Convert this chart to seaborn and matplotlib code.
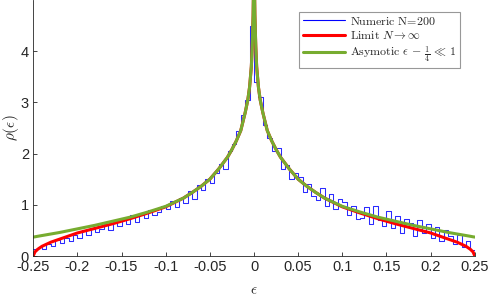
import numpy as np
import pandas as pd
import matplotlib
matplotlib.use("Agg")
import matplotlib.pyplot as plt
from matplotlib.lines import Line2D
import seaborn as sns

# histogram of numeric eigenvalues (bin width 0.005, from -0.25 to 0.25)
bin_edges = np.linspace(-0.25, 0.25, 101)
hist_left = [0.14, 0.18, 0.13, 0.24, 0.20, 0.31, 0.25, 0.35, 0.30, 0.42,
             0.36, 0.50, 0.41, 0.55, 0.46, 0.52, 0.62, 0.50, 0.66, 0.58,
             0.72, 0.62, 0.80, 0.66, 0.84, 0.74, 0.90, 0.80, 0.86, 0.98,
             0.92, 1.08, 0.96, 1.14, 1.04, 1.26, 1.12, 1.38, 1.28, 1.50,
             1.42, 1.62, 1.80, 1.70, 2.05, 2.18, 2.45, 2.75, 3.05, 4.50]
hist_right = [3.40, 3.10, 2.55, 2.30, 2.05, 2.10, 1.70, 1.78, 1.50, 1.62,
              1.55, 1.25, 1.40, 1.18, 1.10, 1.32, 0.98, 1.22, 0.92, 1.12,
              1.05, 0.80, 0.98, 0.72, 0.74, 0.95, 0.62, 0.98, 0.70, 0.58,
              0.88, 0.55, 0.78, 0.45, 0.72, 0.64, 0.40, 0.70, 0.44, 0.62,
              0.36, 0.56, 0.30, 0.50, 0.40, 0.24, 0.42, 0.18, 0.30, 0.12]

# limit and asymptotic curves, read at |eps| points (symmetric)
eps_abs = [0.0005, 0.001, 0.002, 0.003, 0.005, 0.007, 0.01, 0.015, 0.02, 0.025,
           0.03, 0.04, 0.05, 0.06, 0.07, 0.08, 0.1, 0.12, 0.14, 0.16,
           0.18, 0.2, 0.22, 0.23, 0.24, 0.245, 0.248, 0.25]
limit_vals = [5.3, 4.7, 4.1, 3.7, 3.3, 3.05, 2.8, 2.45, 2.25, 2.08,
              1.93, 1.7, 1.5, 1.36, 1.24, 1.13, 0.96, 0.84, 0.73, 0.63,
              0.54, 0.45, 0.33, 0.27, 0.19, 0.13, 0.08, 0.0]
asym_vals = [5.3, 4.7, 4.1, 3.7, 3.3, 3.05, 2.8, 2.45, 2.25, 2.08,
             1.93, 1.7, 1.5, 1.36, 1.24, 1.13, 0.97, 0.86, 0.76, 0.68,
             0.60, 0.53, 0.46, 0.43, 0.40, 0.385, 0.375, 0.37]

bin_centers = (bin_edges[:-1] + bin_edges[1:]) / 2
hist_df = pd.DataFrame({"eps": bin_centers, "rho": hist_left + hist_right})

eps = np.concatenate([-np.array(eps_abs)[::-1], np.array(eps_abs)])
curves = pd.DataFrame({
    "eps": eps,
    "limit": limit_vals[::-1] + limit_vals,
    "asym": asym_vals[::-1] + asym_vals,
})

sns.set_style("ticks")
plt.rcParams["font.family"] = ["Liberation Sans", "DejaVu Sans"]
plt.rcParams["mathtext.fontset"] = "cm"

fig = plt.figure(figsize=(4.88, 2.97), dpi=100)
ax = fig.add_axes([0.068, 0.138, 0.905, 0.862])

sns.histplot(data=hist_df, x="eps", weights="rho", bins=list(bin_edges),
             element="step", fill=False, color="#2a2aff", linewidth=0.75, ax=ax)
sns.lineplot(data=curves, x="eps", y="limit", color="#ff0000", linewidth=2.2,
             sort=False, ax=ax)
sns.lineplot(data=curves, x="eps", y="asym", color="#77ac30", linewidth=2.2,
             sort=False, ax=ax)

ax.set_xlim(-0.25, 0.25)
ax.set_ylim(0, 5)
xt = np.round(np.arange(-0.25, 0.2501, 0.05), 2)
ax.set_xticks(xt)
ax.set_xticklabels(["0" if v == 0 else f"{v:g}" for v in xt])
ax.set_yticks([0, 1, 2, 3, 4])
ax.tick_params(direction="in", length=3, width=0.6, colors="#262626",
               labelsize=10.5, pad=3)
for s in ["top", "right"]:
    ax.spines[s].set_visible(False)
for s in ["left", "bottom"]:
    ax.spines[s].set_linewidth(0.6)
    ax.spines[s].set_color("#262626")

ax.set_xlabel(r"$\epsilon$", fontsize=11)
ax.set_ylabel(r"$\rho(\epsilon)$", fontsize=11)
ax.xaxis.set_label_coords(0.5, -0.105)
ax.yaxis.set_label_coords(-0.028, 0.5)

handles = [Line2D([], [], color="#0000ff", lw=0.8),
           Line2D([], [], color="#ff0000", lw=2.2),
           Line2D([], [], color="#77ac30", lw=2.2)]
labels = [r"$\mathrm{Numeric\ N\!=\!200}$",
          r"$\mathrm{Limit}\ N \to \infty$",
          r"$\mathrm{Asymotic}\ \epsilon\, -\, \frac{1}{4}\, \ll\, 1$"]
leg = ax.legend(handles, labels, loc="upper right", bbox_to_anchor=(0.966, 0.953),
                fontsize=8.6, frameon=True, fancybox=False, handlelength=3.5,
                handletextpad=0.4, borderpad=0.3, labelspacing=0.2,
                borderaxespad=0)
leg.get_frame().set_edgecolor("#7f7f7f")
leg.get_frame().set_linewidth(0.8)

fig.savefig("out.png", dpi=100)
